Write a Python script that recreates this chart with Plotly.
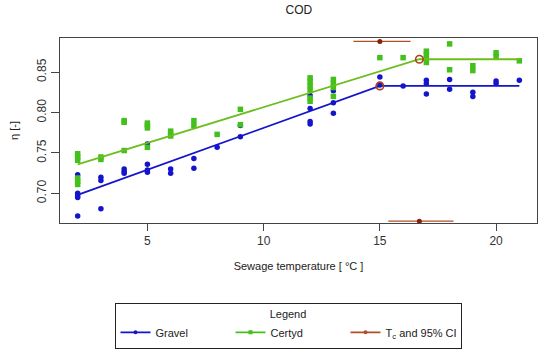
import plotly.graph_objects as go

# ---- data ----
gravel_x = [2,2,2,2,2, 3,3,3, 4,4,4, 5,5,5,5, 6,6, 7,7, 8, 9,9,
            12,12,12,12, 13,13,13, 15,15, 16, 17,17,17, 18,18, 19,19, 20,20, 21]
gravel_y = [0.723,0.700,0.697,0.695,0.672, 0.720,0.716,0.681, 0.730,0.727,0.725,
            0.761,0.736,0.729,0.726, 0.730,0.725, 0.743,0.731, 0.757, 0.770,0.784,
            0.821,0.805,0.789,0.786, 0.827,0.812,0.799, 0.844,0.834, 0.833,
            0.840,0.836,0.823, 0.841,0.829, 0.825,0.820, 0.839,0.836, 0.840]

certyd_x = [2,2,2,2,2,2, 3,3, 4,4,4, 5,5,5,5, 6,6,6, 7,7, 8, 9,9,
            12,12,12,12,12,12, 13,13,13,13, 15, 16, 17,17,17,17, 18,18, 19,19, 20,20, 21]
certyd_y = [0.749,0.745,0.741,0.719,0.715,0.711, 0.745,0.742, 0.790,0.788,0.753,
            0.787,0.784,0.781,0.757, 0.777,0.773,0.771, 0.790,0.784, 0.773, 0.804,0.785,
            0.843,0.838,0.833,0.828,0.818,0.814, 0.841,0.836,0.831,0.820, 0.868, 0.868,
            0.876,0.872,0.867,0.862, 0.885,0.853, 0.858,0.852, 0.874,0.869, 0.864]

gravel_fit_x = [2, 15, 21]
gravel_fit_y = [0.698, 0.833, 0.833]
certyd_fit_x = [2, 16.7, 21]
certyd_fit_y = [0.736, 0.866, 0.866]

tc_x = [15.0, 16.7]
tc_lo = [13.86, 15.36]
tc_hi = [16.32, 18.17]
tc_y = [0.888, 0.6656]
bp_x = [15.0, 16.7]
bp_y = [0.833, 0.866]

x_ticks = [5, 10, 15, 20]
y_ticks = [0.70, 0.75, 0.80, 0.85]
y_ticktext = ["0.70", "0.75", "0.80", "0.85"]

BLUE = "#1414CC"
GREEN_M = "#44C01C"
GREEN_L = "#6CBE1E"
RED_L = "#B0502A"
RED_P = "#8B1E08"
FONT = "Liberation Sans, Arial, sans-serif"

fig = go.Figure()

fig.add_trace(go.Scatter(x=gravel_x, y=gravel_y, mode="markers",
                         marker=dict(symbol="circle", size=5.5, color=BLUE),
                         showlegend=False, hoverinfo="skip"))
fig.add_trace(go.Scatter(x=certyd_x, y=certyd_y, mode="markers",
                         marker=dict(symbol="square", size=5.5, color=GREEN_M),
                         showlegend=False, hoverinfo="skip"))
fig.add_trace(go.Scatter(x=gravel_fit_x, y=gravel_fit_y, mode="lines",
                         line=dict(color=BLUE, width=1.8), showlegend=False))
fig.add_trace(go.Scatter(x=certyd_fit_x, y=certyd_fit_y, mode="lines",
                         line=dict(color=GREEN_L, width=1.8), showlegend=False))
fig.add_trace(go.Scatter(x=bp_x, y=bp_y, mode="markers",
                         marker=dict(symbol="circle-open", size=7.5,
                                     color="#B0401A", line=dict(width=1.6)),
                         showlegend=False))
fig.add_trace(go.Scatter(
    x=tc_x, y=tc_y, mode="markers",
    marker=dict(symbol="circle", size=5, color=RED_P),
    error_x=dict(type="data", symmetric=False,
                 array=[h - c for h, c in zip(tc_hi, tc_x)],
                 arrayminus=[c - l for l, c in zip(tc_lo, tc_x)],
                 color=RED_L, thickness=1.3, width=0),
    showlegend=False, cliponaxis=False))

# legend entries
for name, col, sym in [("Gravel", BLUE, "circle"), ("Certyd", GREEN_M, "square"),
                       ("T<sub>c</sub> and 95% CI", RED_L, "circle")]:
    fig.add_trace(go.Scatter(x=[None], y=[None], mode="lines+markers", name=name,
                             line=dict(color=col, width=1.8),
                             marker=dict(symbol=sym, size=4, color=col)))

fig.update_layout(
    width=550, height=360,
    margin=dict(l=60, r=13, t=38, b=127),
    paper_bgcolor="white", plot_bgcolor="white",
    font=dict(family=FONT, size=12, color="#222"),
    title=dict(text="COD", x=0.5435, xanchor="center", y=0.972, yanchor="middle",
               font=dict(size=12, color="#222")),
    xaxis=dict(range=[1.24, 21.76], tickvals=x_ticks, ticks="outside", ticklen=7,
               tickcolor="#444", showline=True, linecolor="#444", linewidth=1,
               mirror=True, showgrid=False, zeroline=False, automargin=False,
               tickfont=dict(size=12, color="#333"),
               title=dict(text="Sewage temperature [ °C ]", standoff=14,
                          font=dict(size=11, color="#222"))),
    yaxis=dict(range=[0.6633, 0.8923], tickvals=y_ticks, ticktext=y_ticktext,
               ticks="outside", ticklen=8, tickangle=-90,
               tickcolor="#444", showline=True, linecolor="#444", linewidth=1,
               mirror=True, showgrid=False, zeroline=False, automargin=False,
               tickfont=dict(size=12, color="#333"),
               title=dict(text="η [-]", standoff=14,
                          font=dict(size=11, color="#222"))),
    legend=dict(orientation="h", x=0.478, xanchor="center", y=-0.43, yanchor="top",
                bordercolor="#222", borderwidth=1, entrywidth=70, itemwidth=30,
                font=dict(size=11, color="#222"),
                title=dict(text="Legend", side="top center",
                           font=dict(size=11, color="#222"))),
)

fig.write_html("out.html", config={"displayModeBar": False},
               post_script="document.body.style.margin='0';"
                           "document.body.style.overflow='hidden';")
